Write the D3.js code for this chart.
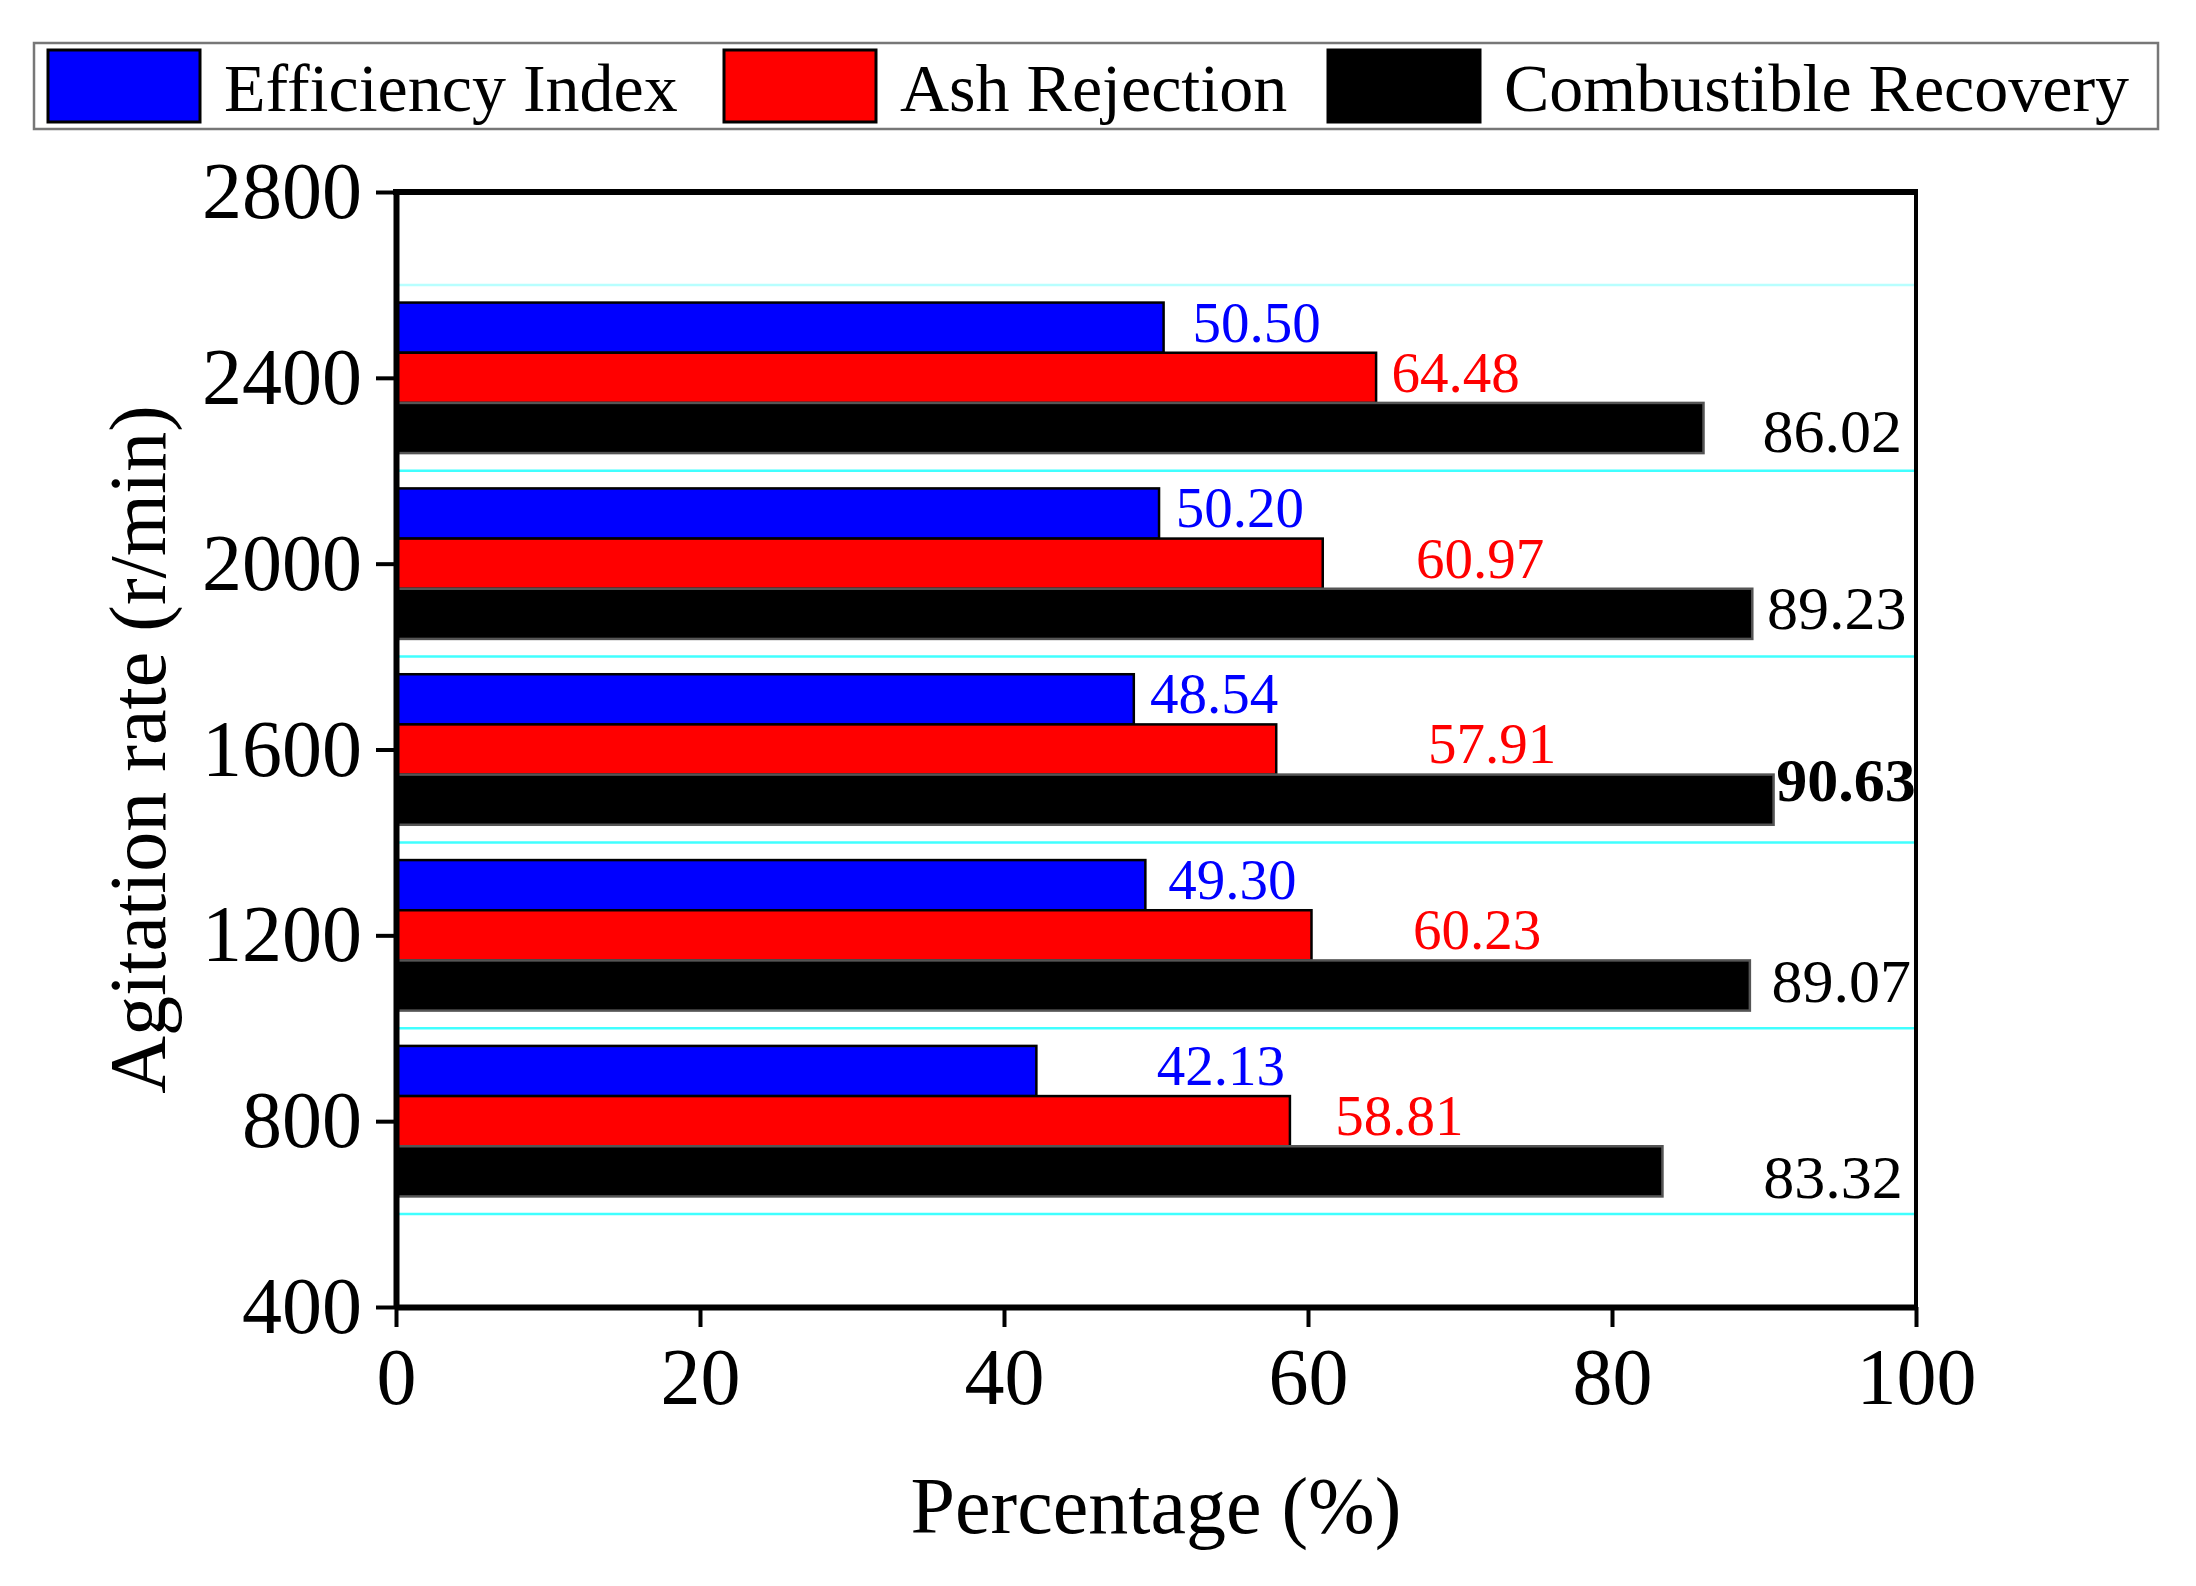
<!DOCTYPE html>
<html>
<head>
<meta charset="utf-8">
<script src="https://cdn.jsdelivr.net/npm/d3@7"></script>
<style>
  body { margin: 0; background: #fff; }
  svg { display: block; font-family: "Liberation Serif", "Times New Roman", serif; }
</style>
</head>
<body>
<svg id="chart"></svg>
<script>
// agitation rate groups (r/min) and the three series, in %
const rates = [800, 1200, 1600, 2000, 2400];
const efficiencyIndex = [42.13, 49.30, 48.54, 50.20, 50.50];
const ashRejection = [58.81, 60.23, 57.91, 60.97, 64.48];
const combustibleRecovery = [83.32, 89.07, 90.63, 89.23, 86.02];

const seriesNames = ['Efficiency Index', 'Ash Rejection', 'Combustible Recovery'];
const seriesColors = ['#0000ff', '#ff0000', '#000000'];

const xTicks = [0, 20, 40, 60, 80, 100];
const yTicks = [400, 800, 1200, 1600, 2000, 2400, 2800];
const gridRates = [600, 1000, 1400, 1800, 2200, 2600];

// hand placed value labels (left edge, in % along the x axis)
const effLabelX = [50.05, 50.8, 49.6, 51.3, 52.4];
const ashLabelX = [61.8, 66.9, 67.9, 67.1, 65.5];
const combLabelX = [89.95, 90.5, 90.8, 90.2, 89.9];
const combLabelDy = [5, -5, -20, -7, 2];

class HBarChart {
  constructor(_config) {
    this.config = {
      parentElement: _config.parentElement,
      containerWidth: _config.containerWidth || 2196,
      containerHeight: _config.containerHeight || 1586
    };
    this.config.margin = _config.margin || { top: 192, bottom: 279, left: 396, right: 280 };
    this.config.width = this.config.containerWidth - this.config.margin.left - this.config.margin.right;
    this.config.height = this.config.containerHeight - this.config.margin.top - this.config.margin.bottom;
    this.svg = d3.select(this.config.parentElement)
        .attr('width', this.config.containerWidth)
        .attr('height', this.config.containerHeight);
  }

  initVis() {
    let vis = this;

    vis.chart = vis.svg.append('g')
        .attr('transform', `translate(${vis.config.margin.left}, ${vis.config.margin.top})`);

    vis.x = d3.scaleLinear().domain([0, 100]).range([0, vis.config.width]);
    vis.y = d3.scaleLinear().domain([400, 2800]).range([vis.config.height, 0]);

    vis.data = rates.map((r, i) => ({
      rate: r,
      values: [efficiencyIndex[i], ashRejection[i], combustibleRecovery[i]],
      labelX: [effLabelX[i], ashLabelX[i], combLabelX[i]],
      labelDy: [-6, -6, combLabelDy[i]]
    }));

    // group spans +-162 r/min around the rate; three equal bars inside it
    vis.groupPx = vis.y(0) - vis.y(324);
    vis.sub = d3.scaleBand().domain(seriesNames).range([-vis.groupPx / 2, vis.groupPx / 2]);

    vis.render();
  }

  render() {
    let vis = this;
    const W = vis.config.width, H = vis.config.height;

    // cyan separators between groups
    vis.chart.append('g')
        .selectAll('line')
        .data(gridRates)
        .enter().append('line')
        .attr('x1', 0).attr('x2', W)
        .attr('y1', d => vis.y(d)).attr('y2', d => vis.y(d))
        .attr('stroke', (d, i) => i === gridRates.length - 1 ? '#b8ffff' : '#40ffff')
        .attr('stroke-width', 2.5);

    const groups = vis.chart.append('g')
        .selectAll('g')
        .data(vis.data)
        .enter().append('g')
        .attr('transform', d => `translate(0, ${vis.y(d.rate)})`);

    groups.selectAll('rect')
        .data(d => d.values.map((v, k) => ({ v, k })))
        .enter().append('rect')
        .attr('x', 0)
        .attr('y', d => vis.sub(seriesNames[d.k]))
        .attr('width', d => vis.x(d.v))
        .attr('height', vis.sub.bandwidth())
        .attr('fill', d => seriesColors[d.k])
        .attr('stroke', d => d.k === 2 ? '#555' : '#000')
        .attr('stroke-width', 2.5);

    groups.selectAll('text')
        .data(d => d.values.map((v, k) => ({ v, k, lx: d.labelX[k], dy: d.labelDy[k] })))
        .enter().append('text')
        .attr('x', d => vis.x(d.lx))
        .attr('y', d => vis.sub(seriesNames[d.k]) + vis.sub.bandwidth() / 2 + d.dy)
        .attr('dy', '0.35em')
        .attr('fill', d => seriesColors[d.k])
        .attr('font-size', d => d.k === 2 ? 62 : 57)
        .attr('font-weight', d => d.k === 2 && d.v === d3.max(combustibleRecovery) ? 'bold' : 'normal')
        .text(d => d.v.toFixed(2));

    // axes
    const yAxis = d3.axisLeft(vis.y).tickValues(yTicks).tickFormat(d3.format('d'))
        .tickSize(20).tickSizeOuter(0).tickPadding(14);
    const xAxis = d3.axisBottom(vis.x).tickValues(xTicks).tickFormat(d3.format('d'))
        .tickSize(20).tickSizeOuter(0).tickPadding(20);

    const gy = vis.chart.append('g').call(yAxis);
    const gx = vis.chart.append('g').attr('transform', `translate(0, ${H})`).call(xAxis);

    [gx, gy].forEach(g => {
      g.select('.domain').attr('stroke', '#000').attr('stroke-width', 6);
      g.selectAll('.tick line').attr('stroke', '#000').attr('stroke-width', 4);
      g.selectAll('.tick text')
          .attr('fill', '#000')
          .attr('font-size', 80)
          .attr('font-family', '"Liberation Serif", "Times New Roman", serif');
    });

    // frame top and right
    vis.chart.append('line')
        .attr('x1', -3).attr('x2', W + 2).attr('y1', 0).attr('y2', 0)
        .attr('stroke', '#000').attr('stroke-width', 6);
    vis.chart.append('line')
        .attr('x1', W).attr('x2', W).attr('y1', 0).attr('y2', H)
        .attr('stroke', '#000').attr('stroke-width', 4);

    // axis titles
    vis.svg.append('text')
        .attr('transform', `translate(165, ${vis.config.margin.top + H / 2}) rotate(-90)`)
        .attr('text-anchor', 'middle')
        .attr('font-size', 80)
        .text('Agitation rate (r/min)');

    vis.svg.append('text')
        .attr('x', vis.config.margin.left + W / 2)
        .attr('y', 1533)
        .attr('text-anchor', 'middle')
        .attr('font-size', 80)
        .text('Percentage (%)');

    vis.renderLegend();
  }

  renderLegend() {
    let vis = this;
    const legend = vis.svg.append('g');

    legend.append('rect')
        .attr('x', 34).attr('y', 43)
        .attr('width', 2124).attr('height', 86)
        .attr('fill', '#fff')
        .attr('stroke', '#777')
        .attr('stroke-width', 2.5);

    const swatchX = [48, 724, 1328];
    seriesNames.forEach((name, i) => {
      legend.append('rect')
          .attr('x', swatchX[i]).attr('y', 50)
          .attr('width', 152).attr('height', 72)
          .attr('fill', seriesColors[i])
          .attr('stroke', '#000')
          .attr('stroke-width', 3);
      legend.append('text')
          .attr('x', swatchX[i] + 176)
          .attr('y', 111)
          .attr('font-size', 68)
          .text(name);
    });
  }
}

const chart = new HBarChart({ parentElement: '#chart' });
chart.initVis();
</script>
</body>
</html>
